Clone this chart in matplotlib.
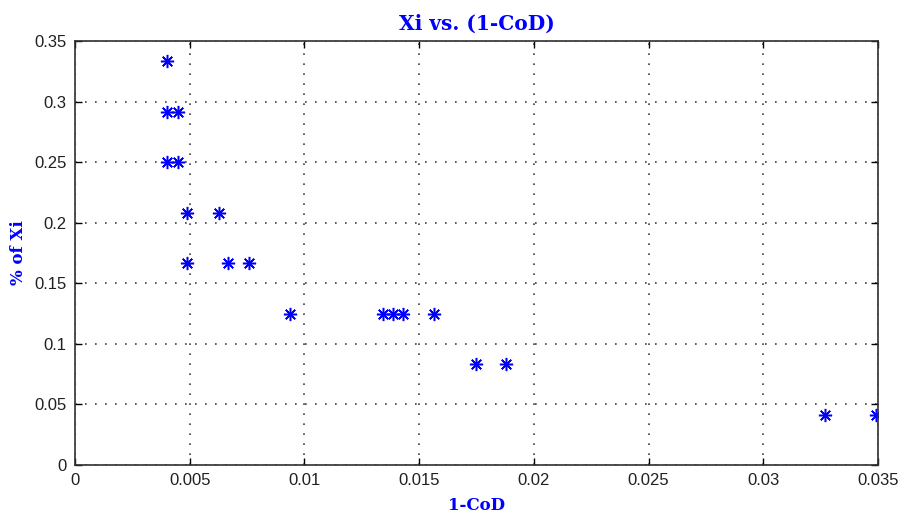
import matplotlib
matplotlib.use('Agg')
import matplotlib.pyplot as plt

# 1-CoD vs share of Xi
one_minus_cod = [0.0040, 0.0040, 0.00448, 0.0040, 0.00448, 0.00489, 0.00626,
                 0.00489, 0.00668, 0.00757, 0.00937, 0.01341, 0.01385,
                 0.01428, 0.01565, 0.01746, 0.0188, 0.03268, 0.03491]
pct_xi = [8/24, 7/24, 7/24, 6/24, 6/24, 5/24, 5/24,
          4/24, 4/24, 4/24, 3/24, 3/24, 3/24,
          3/24, 3/24, 2/24, 2/24, 1/24, 1/24]

xticks = [0, 0.005, 0.01, 0.015, 0.02, 0.025, 0.03, 0.035]
xtick_labels = ['0', '0.005', '0.01', '0.015', '0.02', '0.025', '0.03', '0.035']
yticks = [0, 0.05, 0.1, 0.15, 0.2, 0.25, 0.3, 0.35]
ytick_labels = ['0', '0.05', '0.1', '0.15', '0.2', '0.25', '0.3', '0.35']

blue = '#0000ff'
label_font = dict(family=['DejaVu Serif'], weight='bold', color=blue)

fig = plt.figure(figsize=(9, 5.17), dpi=100)
ax = fig.add_axes([0.0833, 0.1006, 0.8923, 0.8201])

# MATLAB-style '*' marker: 8-spoke asterisk
ax.plot(one_minus_cod, pct_xi, linestyle='none', marker=(8, 2, 0), markersize=9.5,
        color=blue, markeredgewidth=1.1)

ax.set_xlim(0, 0.035)
ax.set_ylim(0, 0.35)
ax.set_xticks(xticks)
ax.set_xticklabels(xtick_labels)
ax.set_yticks(yticks)
ax.set_yticklabels(ytick_labels)
ax.tick_params(direction='in', top=True, right=True, length=5, width=1,
               labelsize=12, pad=6, labelcolor='#202020')
for lab in ax.get_xticklabels() + ax.get_yticklabels():
    lab.set_family(['Liberation Sans', 'DejaVu Sans'])
ax.grid(True, linestyle=(0, (1, 5)), color='#404040', linewidth=1.2)
for s in ax.spines.values():
    s.set_linewidth(1.2)
    s.set_color('#303030')

ax.set_title('Xi vs. (1-CoD)', fontsize=14.5, pad=8, **label_font)
ax.set_xlabel('1-CoD', fontsize=12, labelpad=6, **label_font)
ax.set_ylabel('% of Xi', fontsize=12, labelpad=5, **label_font)

fig.savefig('out.png', dpi=100)
